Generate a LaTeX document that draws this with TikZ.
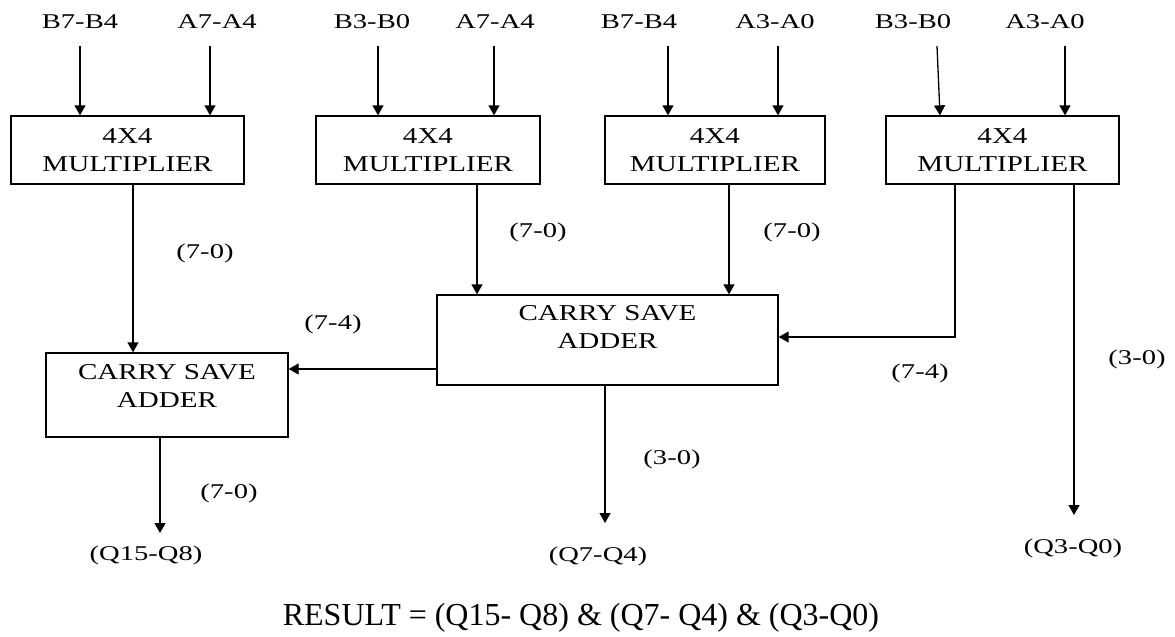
\documentclass[tikz,border=0pt]{standalone}
\usepackage{fontspec}
\setmainfont{Liberation Serif}
\newfontfamily\lblfont[FakeStretch=1.36]{Liberation Serif}
\newfontfamily\blkfont[FakeStretch=1.28]{Liberation Serif}
\usetikzlibrary{arrows.meta,positioning}

\begin{document}
\begin{tikzpicture}[x=1pt,y=-1pt,
  wire/.style={line width=1.3pt},
  arr/.style={wire,-{Triangle[length=10pt,width=11pt]}},
  blk/.style={draw,line width=1.3pt,inner sep=0pt},
  lbl/.style={font=\lblfont\fontsize{21}{24}\selectfont,inner sep=0pt},
  blktxt/.style={font=\blkfont\fontsize{22.7}{28.5}\selectfont,align=center,inner sep=0pt},
  restxt/.style={font=\fontsize{32}{38}\selectfont,inner sep=0pt}]

\useasboundingbox (0,0) rectangle (1175,637);

% input bus labels
\node[lbl] (b1) at (80,22)   {B7-B4};
\node[lbl] (a1) at (217,22)  {A7-A4};
\node[lbl] (b2) at (372,22)  {B3-B0};
\node[lbl] (a2) at (495,22)  {A7-A4};
\node[lbl] (b3) at (639,22)  {B7-B4};
\node[lbl] (a3) at (775,22)  {A3-A0};
\node[lbl] (b4) at (913,22)  {B3-B0};
\node[lbl] (a4) at (1045,22) {A3-A0};

% 4x4 multipliers
\node[blk,minimum width=233,minimum height=68] (m1) at (127.5,150) {};
\node[blk,minimum width=224,minimum height=68] (m2) at (428,150)   {};
\node[blk,minimum width=220,minimum height=68] (m3) at (715,150)   {};
\node[blk,minimum width=233,minimum height=68] (m4) at (1002.5,150){};
\node[blktxt,below=13pt of m1.north] (m1t) {4X4\\MULTIPLIER};
\node[blktxt,below=13pt of m2.north] (m2t) {4X4\\MULTIPLIER};
\node[blktxt,below=13pt of m3.north] (m3t) {4X4\\MULTIPLIER};
\node[blktxt,below=13pt of m4.north] (m4t) {4X4\\MULTIPLIER};

% carry save adders
\node[blk,minimum width=242,minimum height=84] (c1) at (167,395)   {};
\node[blk,minimum width=341,minimum height=90] (c2) at (607.5,340) {};
\node[blktxt,below=11.5pt of c1.north] (c1t) {CARRY SAVE\\ADDER};
\node[blktxt,below=10.5pt of c2.north] (c2t) {CARRY SAVE\\ADDER};

% arrow start points of the input buses
\coordinate (i1) at (80,46);
\coordinate (i2) at (210,46);
\coordinate (i3) at (378,46);
\coordinate (i4) at (494,46);
\coordinate (i5) at (668,46);
\coordinate (i6) at (778,46);
\coordinate (i7) at (937,46);
\coordinate (i8) at (1065,46);

\draw[arr] (i1) -- (i1 |- m1.north);
\draw[arr] (i2) -- (i2 |- m1.north);
\draw[arr] (i3) -- (i3 |- m2.north);
\draw[arr] (i4) -- (i4 |- m2.north);
\draw[arr] (i5) -- (i5 |- m3.north);
\draw[arr] (i6) -- (i6 |- m3.north);
\draw[arr] (i7) -- ([xshift=3pt]i7 |- m4.north);
\draw[arr] (i8) -- (i8 |- m4.north);

% partial products into the adders
\draw[arr] (133,0 |- m1.south) -- (133,0 |- c1.north);
\draw[arr] (477,0 |- m2.south) -- (477,0 |- c2.north);
\draw[arr] (729,0 |- m3.south) -- (729,0 |- c2.north);
\draw[arr] (955,0 |- m4.south) |- (c2.east |- 0,337);
\draw[arr] (c2.west |- 0,369) -- (c1.east |- 0,369);

% result outputs
\node[lbl] (q1) at (146,555)  {(Q15-Q8)};
\node[lbl] (q2) at (598,556)  {(Q7-Q4)};
\node[lbl] (q3) at (1073,548) {(Q3-Q0)};
\draw[arr] (160,0 |- c1.south) -- (160,533);
\draw[arr] (605,0 |- c2.south) -- (605,523);
\draw[arr] (1074,0 |- m4.south) -- (1074,515);

% bit-range annotations
\node[lbl] (r1) at (205,253)  {(7-0)};
\node[lbl] (r2) at (538,232)  {(7-0)};
\node[lbl] (r3) at (792,232)  {(7-0)};
\node[lbl] (r4) at (333,324)  {(7-4)};
\node[lbl] (r5) at (920,373)  {(7-4)};
\node[lbl] (r6) at (1137,359) {(3-0)};
\node[lbl] (r7) at (229,493)  {(7-0)};
\node[lbl] (r8) at (672,459)  {(3-0)};

% concatenated result
\node[restxt] (res) at (581,618) {RESULT = (Q15- Q8) \& (Q7- Q4) \& (Q3-Q0)};
\end{tikzpicture}
\end{document}
